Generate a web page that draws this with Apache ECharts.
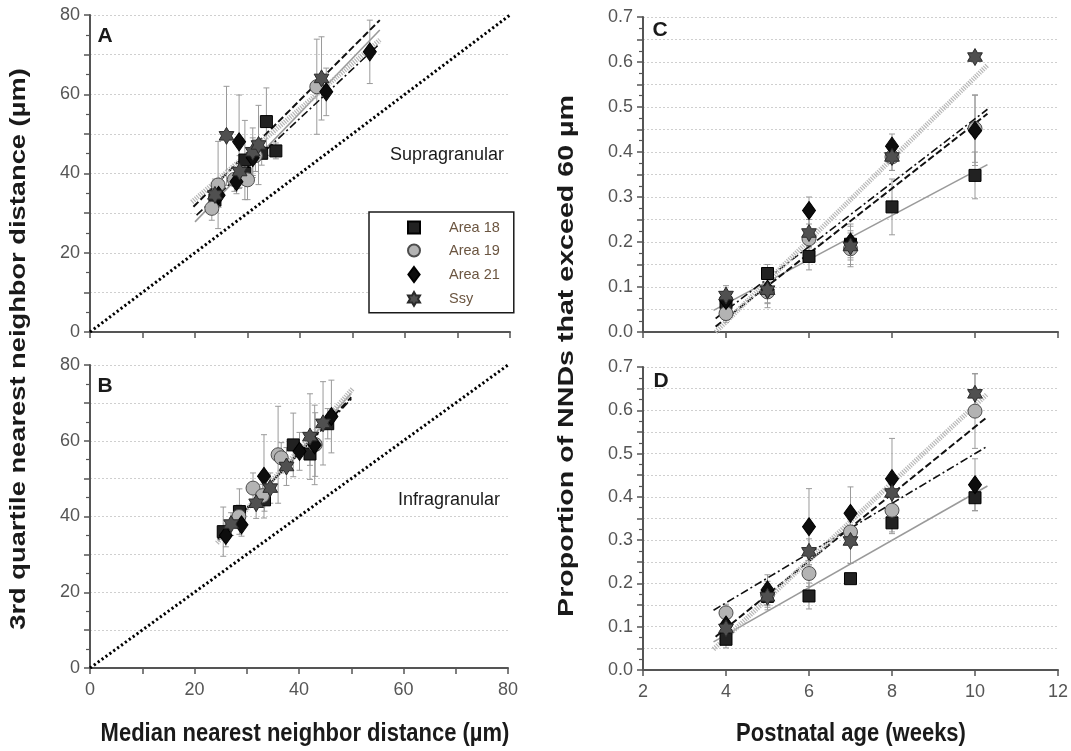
<!DOCTYPE html>
<html>
<head>
<meta charset="utf-8">
<script src="https://cdn.jsdelivr.net/npm/echarts@6/dist/echarts.min.js"></script>
<style>
  html, body { margin: 0; padding: 0; background: #fff; }
  #main { width: 1071px; height: 751px; }
</style>
</head>
<body>
<div id="main"></div>
<script>
// A: supragranular, [median NND, 3rd quartile NND, sd]
var supra18  = [[23.8,33.3,3],[29.5,40.0,3],[29.5,43.4,10],[32.7,45.1,3],[33.6,53.1,8.5],[35.4,45.7,2]];
var supra19  = [[23.2,31.2,3],[24.4,37.1,11],[27.5,38.5,3],[30.0,38.4,5],[31.5,44.5,4],[43.2,61.9,12]];
var supra21  = [[24.5,34.5,3],[27.9,37.9,3],[28.4,48.0,11.8],[31.0,44.0,5],[45.0,60.6,6],[53.3,70.7,8]];
var supraSsy = [[23.8,34.6,4],[26.0,49.5,12.5],[28.5,40.5,4],[31.0,45.5,6],[32.1,47.2,10],[44.1,64.0,10.5]];

// B: infragranular
var infra18  = [[25.5,36.0,6.5],[28.6,41.3,6],[33.4,44.4,3],[38.9,58.9,8.4],[42.1,56.5,3],[45.5,64.5,4]];
var infra19  = [[28.5,40.0,3],[31.2,47.5,4],[33.0,45.5,3],[36.0,56.3,12.8],[36.6,55.5,4],[43.1,59.0,8.4]];
var infra21  = [[26.0,35.0,3],[29.0,37.8,3],[33.3,50.6,11],[40.1,57.2,5],[43.0,58.9,10.5],[46.2,66.4,9.6]];
var infraSsy = [[27.0,38.0,3],[31.8,43.5,4],[34.5,47.5,4],[37.6,53.2,5],[42.1,61.1,11.3],[44.6,64.6,11]];

// C / D: proportion of NNDs > 60 um by age
var ages = [4, 5, 6, 7, 8, 10];
var supraP18  = [0.065,0.130,0.168,0.195,0.278,0.348], supraE18  = [0.02,0.02,0.03,0.03,0.062,0.052];
var supraP19  = [0.041,0.089,0.207,0.185,0.389,0.452], supraE19  = [0.02,0.035,0.02,0.035,0.03,0.075];
var supraP21  = [0.070,0.095,0.270,0.200,0.413,0.448], supraE21  = [0.02,0.03,0.03,0.04,0.027,0.078];
var supraPSsy = [0.081,0.093,0.220,0.190,0.389,0.611], supraESsy = [0.022,0.03,0.03,0.045,0.03,0];
var infraP18  = [0.071,0.170,0.171,0.211,0.340,0.398], infraE18  = [0.02,0.02,0.03,0,0.025,0.03];
var infraP19  = [0.132,0.175,0.223,0.319,0.369,0.598], infraE19  = [0.02,0.03,0.03,0.03,0.05,0.086];
var infraP21  = [0.104,0.185,0.331,0.362,0.442,0.428], infraE21  = [0.02,0.035,0.088,0.061,0.093,0.06];
var infraPSsy = [0.096,0.169,0.273,0.298,0.409,0.638], infraESsy = [0.02,0.03,0.03,0.052,0.03,0.047];

// regression lines (end points)
var fitSupra18  = [[20.0,27.8],[55.2,76.2]];
var fitSupra19  = [[19.7,31.6],[55.2,78.7]];
var fitSupra21  = [[20.3,29.5],[55.2,72.8]];
var fitSupraSsy = [[19.4,32.8],[55.2,73.7]];
var fitInfra18  = [[24.5,33.5],[50.0,72.5]];
var fitInfra19  = [[24.5,34.0],[50.0,71.5]];
var fitInfra21  = [[25.0,35.0],[50.0,71.0]];
var fitInfraSsy = [[24.3,33.0],[50.3,73.8]];
var fitPropC18  = [[3.70,0.048],[10.3,0.372]];
var fitPropC19  = [[3.75,0.012],[10.3,0.485]];
var fitPropC21  = [[3.75,0.030],[10.3,0.495]];
var fitPropCSsy = [[3.75,0.000],[10.3,0.593]];
var fitPropD18  = [[3.70,0.065],[10.3,0.425]];
var fitPropD19  = [[3.75,0.077],[10.3,0.585]];
var fitPropD21  = [[3.70,0.138],[10.3,0.517]];
var fitPropDSsy = [[3.70,0.048],[10.3,0.638]];
var identity = [[0,0],[80,80]];

var nndLabels = [0, 20, 40, 60, 80];
var ageLabels = [2, 4, 6, 8, 10, 12];
var propLabels = ['0.0','0.1','0.2','0.3','0.4','0.5','0.6','0.7'];
var groups = ['Area 18', 'Area 19', 'Area 21', 'Ssy'];

var star = 'path://M0,-10L2.887,-5L8.66,-5L5.774,0L8.66,5L2.887,5L0,10L-2.887,5L-8.66,5L-5.774,0L-8.66,-5L-2.887,-5Z';
var marks = {
  'Area 18': {symbol: 'rect', size: 12, color: '#222', border: '#000'},
  'Area 19': {symbol: 'circle', size: 14, color: '#b3b3b3', border: '#4d4d4d'},
  'Area 21': {symbol: 'diamond', size: [13, 18], color: '#0d0d0d', border: '#000'},
  'Ssy':     {symbol: star, size: 17, color: '#505050', border: '#2a2a2a'}
};
var fitStyle = {
  'Area 18': {color: '#9a9a9a', width: 1.6, type: 'solid'},
  'Area 19': {color: '#111', width: 2, type: [7, 3]},
  'Area 21': {color: '#111', width: 1.6, type: [8, 3, 2, 3]},
  'Ssy':     {color: '#b8b8b8', width: 5, type: [1.2, 1.2]}
};

function byAge(vals, errs) {
  return ages.map(function (a, i) { return [a, vals[i], errs[i]]; });
}

var panels = [
  {sets: [supra18, supra19, supra21, supraSsy], fits: [fitSupra18, fitSupra19, fitSupra21, fitSupraSsy]},
  {sets: [infra18, infra19, infra21, infraSsy], fits: [fitInfra18, fitInfra19, fitInfra21, fitInfraSsy]},
  {sets: [byAge(supraP18, supraE18), byAge(supraP19, supraE19), byAge(supraP21, supraE21), byAge(supraPSsy, supraESsy)],
   fits: [fitPropC18, fitPropC19, fitPropC21, fitPropCSsy]},
  {sets: [byAge(infraP18, infraE18), byAge(infraP19, infraE19), byAge(infraP21, infraE21), byAge(infraPSsy, infraESsy)],
   fits: [fitPropD18, fitPropD19, fitPropD21, fitPropDSsy]}
];

function errorBars(data, ax) {
  return {
    type: 'custom', name: 'err', xAxisIndex: ax, yAxisIndex: ax, z: 1, silent: true,
    data: data, encode: {x: 0, y: 1},
    renderItem: function (params, api) {
      var x = api.value(0), y = api.value(1), e = api.value(2);
      if (!e) return null;
      var hi = api.coord([x, y + e]), lo = api.coord([x, y - e]);
      var st = {stroke: '#9a9a9a', lineWidth: 1};
      return {type: 'group', children: [
        {type: 'line', shape: {x1: hi[0], y1: hi[1], x2: lo[0], y2: lo[1]}, style: st},
        {type: 'line', shape: {x1: hi[0] - 3, y1: hi[1], x2: hi[0] + 3, y2: hi[1]}, style: st},
        {type: 'line', shape: {x1: lo[0] - 3, y1: lo[1], x2: lo[0] + 3, y2: lo[1]}, style: st}
      ]};
    }
  };
}

var series = [];
panels.forEach(function (p, ax) {
  groups.forEach(function (g, k) {
    var m = marks[g], f = fitStyle[g];
    series.push(errorBars(p.sets[k], ax));
    series.push({
      type: 'line', name: g + ' fit', xAxisIndex: ax, yAxisIndex: ax, z: 2, silent: true,
      data: p.fits[k], symbol: 'none',
      lineStyle: {color: f.color, width: f.width, type: f.type}
    });
    series.push({
      type: 'scatter', name: g, xAxisIndex: ax, yAxisIndex: ax, z: 3,
      data: p.sets[k].map(function (d) { return [d[0], d[1]]; }),
      symbol: m.symbol, symbolSize: m.size, symbolKeepAspect: true,
      itemStyle: {color: m.color, borderColor: m.border, borderWidth: 1, opacity: 1}
    });
  });
  if (ax < 2) {
    series.push({
      type: 'line', name: 'identity', xAxisIndex: ax, yAxisIndex: ax, z: 2, silent: true,
      data: identity, symbol: 'none',
      lineStyle: {color: '#000', width: 3, type: [2.2, 2.6]}
    });
  }
});

var axisCommon = {
  axisLine: {show: true, onZero: false, lineStyle: {color: '#555', width: 2}},
  axisTick: {show: true, length: 6, lineStyle: {color: '#555', width: 1.5}},
  axisLabel: {color: '#555', fontSize: 18, fontFamily: 'Liberation Sans', margin: 10}
};

function xAx(grid, min, max, interval, labels, showLabel) {
  return echarts.util.merge({
    type: 'value', gridIndex: grid, min: min, max: max, interval: interval,
    splitLine: {show: false},
    axisLabel: {show: showLabel, margin: 13, formatter: function (v) {
      return labels.indexOf(Math.round(v)) >= 0 ? String(Math.round(v)) : '';
    }}
  }, axisCommon, false);
}

function nndY(grid) {
  return echarts.util.merge({
    type: 'value', gridIndex: grid, min: 0, max: 80, interval: 10,
    minorTick: {show: true, splitNumber: 2, length: 4, lineStyle: {color: '#555', width: 1.2}},
    splitLine: {show: true, lineStyle: {color: '#cfcfcf', width: 1, type: [2, 2]}},
    axisLabel: {formatter: function (v) {
      return nndLabels.indexOf(Math.round(v)) >= 0 ? String(Math.round(v)) : '';
    }}
  }, axisCommon, false);
}

function propY(grid) {
  return echarts.util.merge({
    type: 'value', gridIndex: grid, min: 0, max: 0.7, interval: 0.05,
    minorTick: {show: true, splitNumber: 2, length: 4, lineStyle: {color: '#555', width: 1.2}},
    splitLine: {show: true, lineStyle: {color: '#cfcfcf', width: 1, type: [2, 2]}},
    axisLabel: {formatter: function (v) {
      var s = (Math.round(v * 100) / 100).toFixed(2);
      var t = s.slice(0, -1);
      return (s.charAt(s.length - 1) === '0' && propLabels.indexOf(t) >= 0) ? t : '';
    }}
  }, axisCommon, false);
}

function txt(x, y, text, font, extra) {
  var o = {type: 'text', x: x, y: y, z: 10, silent: true,
    style: {text: text, font: font, fill: '#1a1a1a', align: 'center', verticalAlign: 'middle'}};
  if (extra) for (var k in extra) o[k] = extra[k];
  return o;
}

var chart = echarts.init(document.getElementById('main'), null, {renderer: 'canvas'});
chart.setOption({
  animation: false,
  backgroundColor: '#fff',
  grid: [
    {left: 90, top: 15, width: 420, height: 317},
    {left: 90, top: 365, width: 418, height: 303},
    {left: 643, top: 17, width: 415, height: 315},
    {left: 643, top: 367, width: 415, height: 303}
  ],
  xAxis: [
    xAx(0, 0, 80, 10, nndLabels, false),
    xAx(1, 0, 80, 10, nndLabels, true),
    xAx(2, 2, 12, 2, ageLabels, false),
    xAx(3, 2, 12, 2, ageLabels, true)
  ],
  yAxis: [nndY(0), nndY(1), propY(2), propY(3)],
  legend: {
    orient: 'vertical', left: 369, top: 212, selectedMode: false,
    padding: [8, 14, 6, 38], itemGap: 8, itemWidth: 12, itemHeight: 15,
    borderColor: '#1a1a1a', borderWidth: 1.5, borderRadius: 0, backgroundColor: '#fff',
    textStyle: {color: '#6b5540', fontSize: 14.5, fontFamily: 'Liberation Sans', padding: [0, 0, 0, 24]},
    data: [
      {name: 'Area 18', icon: 'path://M0,0H12V12H0Z'},
      {name: 'Area 19', icon: 'circle'},
      {name: 'Area 21', icon: 'path://M6,0L12,8L6,16L0,8Z'},
      {name: 'Ssy', icon: star}
    ]
  },
  graphic: [
    txt(105, 36, 'A', 'bold 21px "Liberation Sans"'),
    txt(105, 386, 'B', 'bold 21px "Liberation Sans"'),
    txt(660, 30, 'C', 'bold 21px "Liberation Sans"'),
    txt(661, 381, 'D', 'bold 21px "Liberation Sans"'),
    txt(447, 155, 'Supragranular', '18px "Liberation Sans"', null),
    txt(449, 500, 'Infragranular', '18px "Liberation Sans"', null),
    txt(305, 734, 'Median nearest neighbor distance (µm)', 'bold 22px "Liberation Sans"', {scaleY: 1.15}),
    txt(851, 734, 'Postnatal age (weeks)', 'bold 22px "Liberation Sans"', {scaleY: 1.15}),
    txt(19, 349, '3rd quartile nearest neighbor distance (µm)', 'bold 22px "Liberation Sans"',
      {rotation: Math.PI / 2, scaleX: 1.24}),
    txt(567, 356, 'Proportion of NNDs that exceed 60 µm', 'bold 22px "Liberation Sans"',
      {rotation: Math.PI / 2, scaleX: 1.3})
  ],
  series: series
});
</script>
</body>
</html>
